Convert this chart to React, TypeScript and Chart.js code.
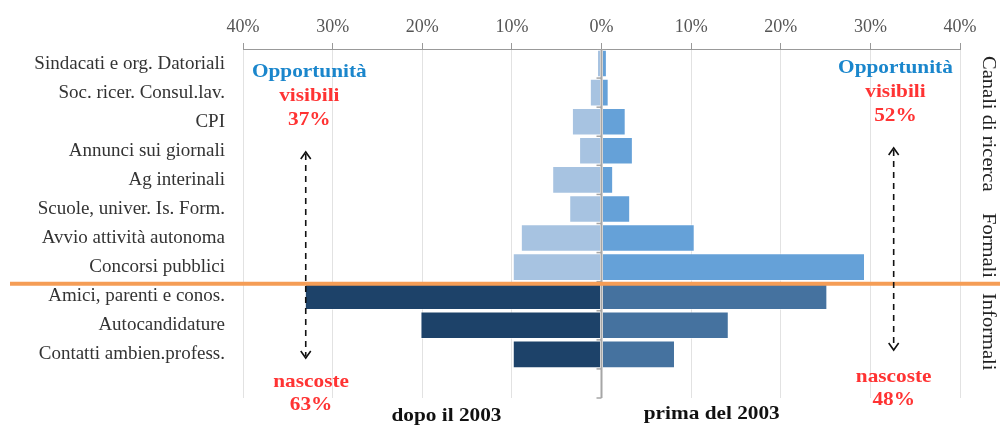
import React, { useEffect, useRef } from "react";
import { Chart, registerables } from "chart.js";

Chart.register(...registerables);

const categories = [
  "Sindacati e org. Datoriali",
  "Soc. ricer. Consul.lav.",
  "CPI",
  "Annunci sui giornali",
  "Ag interinali",
  "Scuole, univer. Is. Form.",
  "Avvio attività autonoma",
  "Concorsi pubblici",
  "Amici, parenti e conos.",
  "Autocandidature",
  "Contatti ambien.profess.",
  "",
];
const isFormal = [true, true, true, true, true, true, true, true, false, false, false, false];
const dopo2003 = [0.5, 1.3, 3.3, 2.5, 5.5, 3.6, 9.0, 9.9, 33.1, 20.2, 9.9, null];
const prima2003 = [0.6, 0.8, 2.7, 3.5, 1.3, 3.2, 10.4, 29.4, 25.2, 14.2, 8.2, null];
const tickValues = [-40, -30, -20, -10, 0, 10, 20, 30, 40];

const leftLabels = { top: ["Opportunità", "visibili", "37%"], bottom: ["nascoste", "63%"] };
const rightLabels = { top: ["Opportunità", "visibili", "52%"], bottom: ["nascoste", "48%"] };
const seriesNames = ["dopo il 2003", "prima del 2003"];
const sideTitles = ["Canali di ricerca", "Formali", "Informali"];

const SERIF = "'Liberation Serif', 'Times New Roman', serif";
const BLUE_TXT = "#1a86cc";
const RED_TXT = "#ff3333";

function stretchText(ctx: CanvasRenderingContext2D, t: string, x: number, y: number, sx: number) {
  ctx.save();
  ctx.translate(x, y);
  ctx.scale(sx, 1);
  ctx.fillText(t, 0, 0);
  ctx.restore();
}

function drawArrow(ctx: CanvasRenderingContext2D, x: number, y1: number, y2: number) {
  ctx.save();
  ctx.strokeStyle = "#111";
  ctx.lineWidth = 1.6;
  ctx.setLineDash([6, 5]);
  ctx.beginPath();
  ctx.moveTo(x, y1 + 2);
  ctx.lineTo(x, y2 - 2);
  ctx.stroke();
  ctx.setLineDash([]);
  ctx.beginPath();
  ctx.moveTo(x - 5, y1 + 7);
  ctx.lineTo(x, y1);
  ctx.lineTo(x + 5, y1 + 7);
  ctx.moveTo(x - 5, y2 - 7);
  ctx.lineTo(x, y2);
  ctx.lineTo(x + 5, y2 - 7);
  ctx.stroke();
  ctx.restore();
}

const annotPlugin = {
  id: "annot",
  afterDatasetsDraw(chart: any) {
    const ctx: CanvasRenderingContext2D = chart.ctx;
    const xs = chart.scales.x;
    const ca = chart.chartArea;
    const n = categories.length;
    const h = (ca.bottom - ca.top) / n;
    const rowY = (k: number) => ca.top + h * k;
    const x0 = xs.getPixelForValue(0);

    // zero line + small ticks
    ctx.save();
    ctx.strokeStyle = "#a6a6a6";
    ctx.lineWidth = 2;
    ctx.beginPath();
    ctx.moveTo(x0, ca.top);
    ctx.lineTo(x0, ca.bottom);
    ctx.stroke();
    ctx.lineWidth = 1.5;
    for (let k = 1; k <= n; k++) {
      ctx.beginPath();
      ctx.moveTo(x0 - 5, rowY(k));
      ctx.lineTo(x0, rowY(k));
      ctx.stroke();
    }
    ctx.restore();

    // orange separator
    const sepY = rowY(8) + 2;
    ctx.save();
    ctx.strokeStyle = "#f59d56";
    ctx.lineWidth = 4;
    ctx.beginPath();
    ctx.moveTo(10, sepY);
    ctx.lineTo(chart.width, sepY);
    ctx.stroke();
    ctx.restore();

    ctx.save();
    ctx.textAlign = "center";
    ctx.textBaseline = "middle";
    ctx.font = `bold 19px ${SERIF}`;
    const SX = 1.12;
    const drawTop = (xv: number, lines: string[], y0: number) => {
      const x = xs.getPixelForValue(xv);
      ctx.fillStyle = BLUE_TXT;
      stretchText(ctx, lines[0], x, y0, SX);
      ctx.fillStyle = RED_TXT;
      stretchText(ctx, lines[1], x, y0 + 24, SX);
      stretchText(ctx, lines[2], x, y0 + 48, SX);
    };
    const drawBottom = (xv: number, lines: string[], y0: number) => {
      const x = xs.getPixelForValue(xv);
      ctx.fillStyle = RED_TXT;
      stretchText(ctx, lines[0], x, y0, SX);
      stretchText(ctx, lines[1], x, y0 + 23, SX);
    };
    drawTop(-32.6, leftLabels.top, 72);
    drawTop(32.8, rightLabels.top, 68);
    drawBottom(-32.4, leftLabels.bottom, 382);
    drawBottom(32.6, rightLabels.bottom, 377);

    ctx.fillStyle = "#111";
    stretchText(ctx, seriesNames[0], xs.getPixelForValue(-17.3), 416, SX);
    stretchText(ctx, seriesNames[1], xs.getPixelForValue(12.3), 414, SX);
    ctx.restore();

    drawArrow(ctx, xs.getPixelForValue(-33), 152, 358);
    drawArrow(ctx, xs.getPixelForValue(32.6), 148, 350);

    // right vertical titles
    ctx.save();
    ctx.fillStyle = "#222";
    ctx.font = `19px ${SERIF}`;
    ctx.textBaseline = "middle";
    ctx.textAlign = "left";
    const vx = 988;
    const starts = [56, 213, 293];
    sideTitles.forEach((t, i) => {
      ctx.save();
      ctx.translate(vx, starts[i]);
      ctx.rotate(Math.PI / 2);
      ctx.scale(1.08, 1);
      ctx.fillText(t, 0, 0);
      ctx.restore();
    });
    ctx.restore();
  },
};

export default function App() {
  const ref = useRef<HTMLCanvasElement>(null);
  useEffect(() => {
    if (!ref.current) return;
    const chart = new Chart(ref.current, {
      type: "bar",
      data: {
        labels: categories,
        datasets: [
          {
            label: seriesNames[0],
            data: dopo2003.map((v) => (v == null ? null : -v)),
            backgroundColor: isFormal.map((f) => (f ? "#a7c3e1" : "#1d4269")),
            borderColor: "rgba(255,255,255,0.55)",
            borderWidth: 1,
            borderSkipped: false,
          },
          {
            label: seriesNames[1],
            data: prima2003,
            backgroundColor: isFormal.map((f) => (f ? "#65a1d8" : "#45729f")),
            borderColor: "rgba(255,255,255,0.55)",
            borderWidth: 1,
            borderSkipped: false,
          },
        ],
      },
      options: {
        indexAxis: "y",
        responsive: false,
        animation: false,
        layout: { padding: { left: 0, right: 40, top: 0, bottom: 28 } },
        datasets: { bar: { categoryPercentage: 1, barPercentage: 0.95 } },
        plugins: { legend: { display: false }, tooltip: { enabled: false } },
        scales: {
          x: {
            position: "top",
            stacked: true,
            min: -40,
            max: 40,
            afterBuildTicks: (s: any) => {
              s.ticks = tickValues.map((v) => ({ value: v }));
            },
            afterFit: (s: any) => {
              s.height = 49;
            },
            ticks: {
              callback: (v: any) => Math.abs(Number(v)) + "%",
              color: "#555",
              font: { family: SERIF, size: 18 },
              padding: 5,
              maxRotation: 0,
            },
            grid: {
              color: (c: any) => (c.tick && c.tick.value === 0 ? "#a6a6a6" : "#e2e2e2"),
              tickColor: "#999",
              tickLength: 6,
            },
            border: { display: true, color: "#999", width: 1 },
          },
          y: {
            stacked: true,
            afterFit: (s: any) => {
              s.width = 243;
            },
            ticks: {
              color: "#333",
              font: { family: SERIF, size: 19 },
              padding: 10,
              autoSkip: false,
            },
            grid: { display: false },
            border: { display: false },
          },
        },
      },
      plugins: [annotPlugin],
    });
    return () => chart.destroy();
  }, []);
  return (
    <div style={{ position: "absolute", left: 0, top: 0, width: 1000, height: 426, background: "#fff" }}>
      <canvas ref={ref} width={1000} height={426} style={{ display: "block" }} />
    </div>
  );
}
